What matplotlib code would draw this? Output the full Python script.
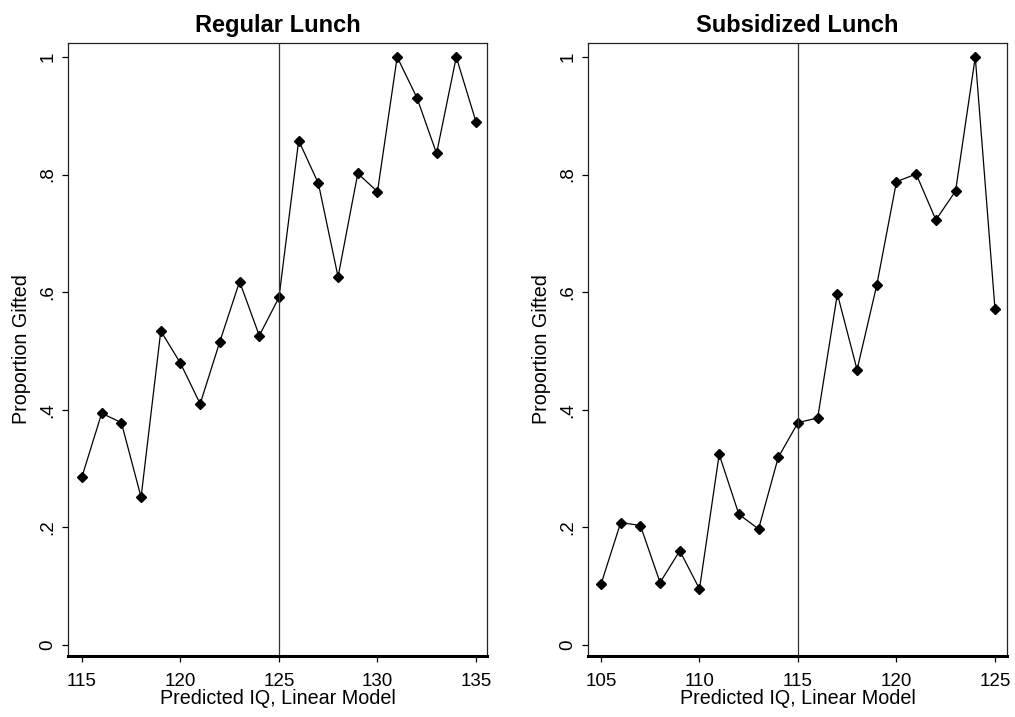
import matplotlib
matplotlib.use("Agg")
import matplotlib.pyplot as plt

plt.rcParams['font.family'] = ['Liberation Sans', 'DejaVu Sans']

# Regular lunch panel
reg_iq = [115, 116, 117, 118, 119, 120, 121, 122, 123, 124, 125,
          126, 127, 128, 129, 130, 131, 132, 133, 134, 135]
reg_prop = [0.286, 0.394, 0.378, 0.251, 0.534, 0.479, 0.410, 0.516, 0.618, 0.526, 0.591,
            0.858, 0.785, 0.626, 0.802, 0.771, 1.0, 0.931, 0.836, 1.0, 0.890]
reg_cutoff = 125

# Subsidized lunch panel
sub_iq = [105, 106, 107, 108, 109, 110, 111, 112, 113, 114, 115,
          116, 117, 118, 119, 120, 121, 122, 123, 124, 125]
sub_prop = [0.103, 0.208, 0.203, 0.106, 0.160, 0.095, 0.324, 0.222, 0.197, 0.319, 0.378,
            0.386, 0.597, 0.468, 0.612, 0.788, 0.801, 0.723, 0.772, 1.0, 0.572]
sub_cutoff = 115

y_ticks = [0, 0.2, 0.4, 0.6, 0.8, 1.0]
y_labels = ['0', '.2', '.4', '.6', '.8', '1']

fig = plt.figure(figsize=(10.15, 7.17), dpi=100)

panels = [
    ([0.067, 0.0851, 0.4128, 0.855], reg_iq, reg_prop, reg_cutoff, 'Regular Lunch',
     [115, 120, 125, 130, 135], (114.29, 135.56)),
    ([0.5793, 0.0851, 0.4128, 0.855], sub_iq, sub_prop, sub_cutoff, 'Subsidized Lunch',
     [105, 110, 115, 120, 125], (104.34, 125.61)),
]

for rect, xs, ys, cut, title, xt, xlim in panels:
    ax = fig.add_axes(rect)
    ax.plot(xs, ys, color='black', lw=0.9, marker='D', markersize=5.5,
            markerfacecolor='black', markeredgecolor='black')
    ax.axvline(cut, color='#333333', lw=0.9)
    ax.set_xlim(*xlim)
    ax.set_ylim(-0.019, 1.024)
    ax.set_xticks(xt)
    ax.set_yticks(y_ticks)
    ax.set_yticklabels(y_labels, rotation=90, va='center')
    ax.tick_params(axis='both', labelsize=13.5, length=4.5, width=0.9, colors='black')
    ax.tick_params(axis='x', pad=8)
    ax.tick_params(axis='y', pad=4)
    for s in ['top', 'right', 'left']:
        ax.spines[s].set_linewidth(0.9)
        ax.spines[s].set_color('#222222')
    ax.spines['bottom'].set_linewidth(2.2)
    ax.set_xlabel('Predicted IQ, Linear Model', fontsize=14.2, labelpad=-1)
    ax.set_ylabel('Proportion Gifted', fontsize=14.2, labelpad=6)
    ax.set_title(title, fontsize=17, fontweight='bold', pad=8)

fig.savefig('out.png', dpi=100, facecolor='white')
